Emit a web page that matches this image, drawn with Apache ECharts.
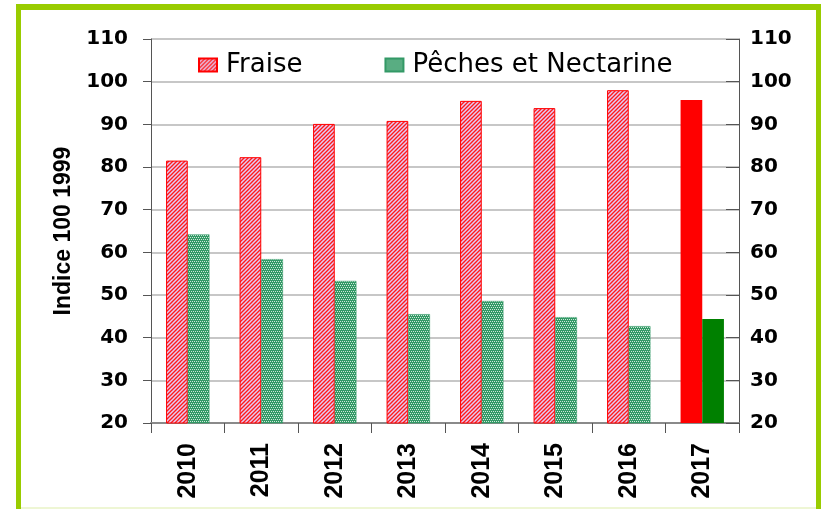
<!DOCTYPE html>
<html>
<head>
<meta charset="utf-8">
<script src="https://cdn.jsdelivr.net/npm/echarts@6/dist/echarts.min.js"></script>
<style>
  html, body { margin: 0; padding: 0; background: #fff; }
  #chart { width: 821px; height: 509px; }
</style>
</head>
<body>
<div id="chart"></div>
<script>
const years = ['2010', '2011', '2012', '2013', '2014', '2015', '2016', '2017']
const fraise = [81.5, 82.3, 90.1, 90.8, 95.5, 93.8, 98.0, 95.7]
const peches = [64.2, 58.4, 53.3, 45.5, 48.6, 44.8, 42.7, 44.4]
const yMin = 20
const yMax = 110
const yStep = 10

// hachures rouges (////) et trame verte pointillée, comme dans le graphique Excel
const makePattern = (draw) => {
  const c = document.createElement('canvas')
  c.width = 4
  c.height = 4
  draw(c.getContext('2d'))
  return { image: c, repeat: 'repeat' }
}
const redHatch = makePattern(ctx => {
  ctx.fillStyle = '#ff1a1a'
  ctx.fillRect(0, 0, 4, 4)
  ctx.strokeStyle = '#e4ccf4'
  ctx.lineWidth = 1.5
  ctx.beginPath()
  ctx.moveTo(0, 4); ctx.lineTo(4, 0)
  ctx.moveTo(-1, 1); ctx.lineTo(1, -1)
  ctx.moveTo(3, 5); ctx.lineTo(5, 3)
  ctx.stroke()
})
const greenDots = makePattern(ctx => {
  ctx.fillStyle = '#339966'
  ctx.fillRect(0, 0, 4, 4)
  ctx.fillStyle = '#cde9d9'
  ctx.fillRect(0, 1, 1, 1)
  ctx.fillRect(2, 1, 1, 1)
  ctx.fillRect(1, 3, 1, 1)
  ctx.fillRect(3, 3, 1, 1)
})

const last = years.length - 1
const chart = echarts.init(document.getElementById('chart'))
const tickFont = { fontFamily: 'DejaVu Sans', fontWeight: 'bold', fontSize: 20, color: '#000' }

chart.setOption({
  animation: false,
  graphic: [
    { type: 'rect', shape: { x: 16, y: 4, width: 5, height: 505 }, style: { fill: '#99cc00' } },
    { type: 'rect', shape: { x: 16, y: 4, width: 805, height: 6 }, style: { fill: '#99cc00' } },
    { type: 'rect', shape: { x: 816, y: 4, width: 5, height: 505 }, style: { fill: '#99cc00' } },
    { type: 'rect', shape: { x: 21, y: 507, width: 795, height: 2 }, style: { fill: '#eef6d4' } }
  ],
  legend: {
    left: 193,
    top: 47,
    itemWidth: 18,
    itemHeight: 13,
    itemGap: 82,
    icon: 'rect',
    textStyle: { fontFamily: 'DejaVu Sans', fontSize: 26, color: '#000', padding: [0, 0, 0, 4] },
    data: ['Fraise', 'Pêches et Nectarine']
  },
  grid: { left: 151, right: 82, top: 39, bottom: 86 },
  xAxis: {
    type: 'category',
    data: years,
    axisLine: { lineStyle: { color: '#8a8a8a', width: 2 } },
    axisTick: { show: true, alignWithLabel: false, length: 10, lineStyle: { color: '#555' } },
    axisLabel: {
      rotate: 90,
      margin: 20,
      fontFamily: 'Liberation Sans',
      fontWeight: 'bold',
      fontSize: 25,
      color: '#000'
    }
  },
  yAxis: [
    {
      type: 'value',
      min: yMin,
      max: yMax,
      interval: yStep,
      name: 'Indice 100 1999',
      nameLocation: 'middle',
      nameGap: 76,
      nameTextStyle: { fontFamily: 'Liberation Sans', fontWeight: 'bold', fontSize: 23, color: '#000' },
      axisLine: { show: true, lineStyle: { color: '#555' } },
      axisTick: { show: true, length: 8, lineStyle: { color: '#555' } },
      axisLabel: { margin: 23, ...tickFont },
      splitLine: { lineStyle: { color: '#b4b4b4', width: 1.5 } }
    },
    {
      type: 'value',
      min: yMin,
      max: yMax,
      interval: yStep,
      position: 'right',
      axisLine: { show: true, lineStyle: { color: '#555' } },
      axisTick: { show: true, inside: true, length: 13, lineStyle: { color: '#555' } },
      axisLabel: { margin: 11, ...tickFont },
      splitLine: { show: false }
    }
  ],
  series: [
    {
      name: 'Fraise',
      type: 'bar',
      barGap: '0%',
      barCategoryGap: '41%',
      itemStyle: { color: redHatch, borderColor: '#ff0000', borderWidth: 1 },
      data: fraise.map((v, i) => i === last ? { value: v, itemStyle: { color: '#ff0000', borderWidth: 0 } } : v)
    },
    {
      name: 'Pêches et Nectarine',
      type: 'bar',
      itemStyle: { color: greenDots, borderColor: '#339966', borderWidth: 0.5 },
      data: peches.map((v, i) => i === last ? { value: v, itemStyle: { color: '#008000', borderWidth: 0 } } : v)
    }
  ]
})
</script>
</body>
</html>
